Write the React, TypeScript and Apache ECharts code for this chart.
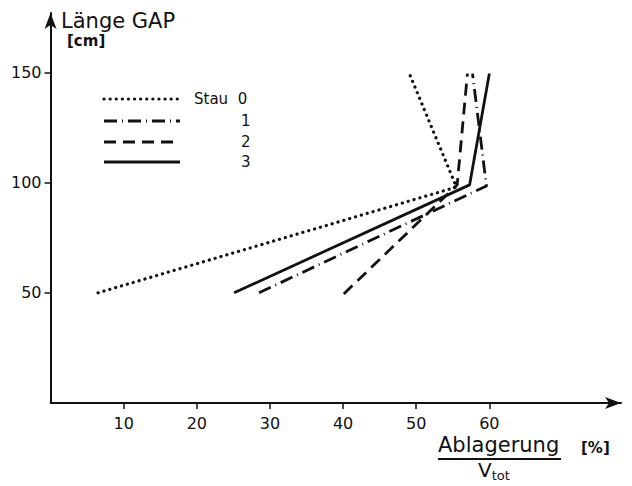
import React, { useEffect, useRef } from "react";
import * as echarts from "echarts";

const seriesNames = ["Stau 0", "1", "2", "3"];
const stau0: [number, number][] = [[6.5, 50], [55.5, 98], [49, 150]];
const stau1: [number, number][] = [[28.5, 50], [59.6, 98.5], [57.7, 149.5]];
const stau2: [number, number][] = [[40.1, 49.5], [55.6, 99], [57.0, 149.5]];
const stau3: [number, number][] = [[25.1, 50], [57.3, 99], [60.0, 149.5]];
const xTicks = [10, 20, 30, 40, 50, 60];
const yTicks = [50, 100, 150];

const FONT = "DejaVu Sans";
const dashTypes: any[] = [[0.1, 6], [13, 5, 1, 5], [12, 7], "solid"];

export default function App() {
  const ref = useRef<HTMLDivElement>(null);
  useEffect(() => {
    const chart = echarts.init(ref.current!, null, { renderer: "svg" });
    const datasets = [stau0, stau1, stau2, stau3];
    const legendY = [91, 113, 134, 154];
    const legendGraphics: any[] = [];
    datasets.forEach((_, i) => {
      legendGraphics.push({
        type: "line",
        shape: { x1: 96, y1: legendY[i], x2: 172, y2: legendY[i] },
        style: {
          stroke: "#111",
          lineWidth: i === 0 ? 3.2 : 2.8,
          lineDash: dashTypes[i] === "solid" ? null : dashTypes[i],
          lineCap: i === 0 ? "round" : "butt",
        },
      });
      legendGraphics.push({
        type: "text",
        x: i === 0 ? 186 : 233,
        y: legendY[i],
        style: {
          text: seriesNames[i].replace("0", " 0"),
          fontFamily: FONT,
          fontSize: 15,
          fill: "#111",
          verticalAlign: "middle",
        },
      });
    });
    chart.setOption({
      animation: false,
      backgroundColor: "#fff",
      textStyle: { fontFamily: FONT, color: "#111" },
      grid: { left: 39, right: 3, top: 5, bottom: 83 },
      xAxis: {
        type: "value",
        min: 0,
        max: 78,
        interval: 10,
        splitLine: { show: false },
        axisLine: {
          lineStyle: { color: "#111", width: 2 },
          symbol: ["none", "arrow"],
          symbolSize: [9, 16],
        },
        axisTick: { show: true, length: 6, lineStyle: { color: "#111", width: 1.5 }, customValues: xTicks },
        axisLabel: { customValues: xTicks, margin: 12, fontSize: 16, color: "#111", fontFamily: FONT },
      },
      yAxis: {
        type: "value",
        min: 0,
        max: 177,
        interval: 50,
        splitLine: { show: false },
        axisLine: {
          show: true,
          lineStyle: { color: "#111", width: 2 },
          symbol: ["none", "arrow"],
          symbolSize: [9, 16],
        },
        axisTick: { show: true, length: 6, lineStyle: { color: "#111", width: 1.5 }, customValues: yTicks },
        axisLabel: { customValues: yTicks, margin: 9, fontSize: 16, color: "#111", fontFamily: FONT },
      },
      series: datasets.map((d, i) => ({
        type: "line",
        name: seriesNames[i],
        data: d,
        symbol: "none",
        lineStyle: {
          color: "#111",
          width: i === 0 ? 3.2 : 2.8,
          type: dashTypes[i],
          cap: i === 0 ? "round" : "butt",
          join: "round",
        },
      })),
      graphic: [
        {
          type: "text",
          x: 53,
          y: 13,
          style: { text: "Länge GAP", fontFamily: FONT, fontSize: 21, fill: "#111", verticalAlign: "middle" },
        },
        {
          type: "text",
          x: 59,
          y: 33,
          style: { text: "[cm]", fontFamily: FONT, fontSize: 15, fontWeight: "bold", fill: "#111", verticalAlign: "middle" },
        },
        {
          type: "text",
          x: 430,
          y: 437,
          style: { text: "Ablagerung", fontFamily: FONT, fontSize: 21, fill: "#111", verticalAlign: "middle" },
        },
        {
          type: "line",
          shape: { x1: 430, y1: 451, x2: 553, y2: 451 },
          style: { stroke: "#111", lineWidth: 1.8 },
        },
        {
          type: "text",
          x: 470,
          y: 462,
          style: {
            text: "{v|V}{s|tot}",
            fontFamily: FONT,
            verticalAlign: "middle",
            rich: {
              v: { fontSize: 20, fontFamily: FONT, fill: "#111" },
              s: { fontSize: 13, fontFamily: FONT, fill: "#111", padding: [10, 0, 0, 0] },
            },
          },
        },
        {
          type: "text",
          x: 573,
          y: 440,
          style: { text: "[%]", fontFamily: FONT, fontSize: 15, fontWeight: "bold", fill: "#111", verticalAlign: "middle" },
        },
        ...legendGraphics,
      ],
    });
    return () => chart.dispose();
  }, []);
  return <div ref={ref} style={{ width: 616, height: 478 }} />;
}
